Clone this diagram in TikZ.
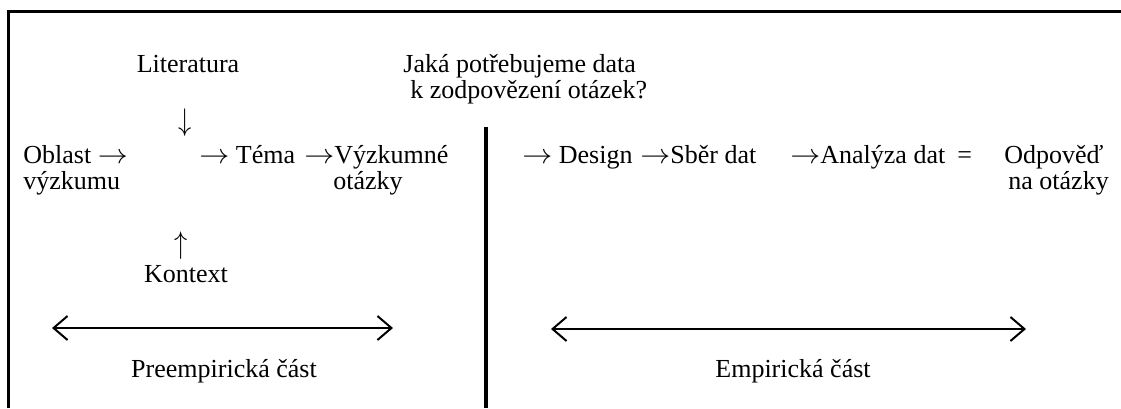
\documentclass[tikz,border=0pt]{standalone}
\usepackage{graphicx}
\usepackage{fontspec}
\setmainfont{Liberation Serif}
\usetikzlibrary{positioning,arrows.meta}
\newcommand{\rarr}{\scalebox{1.25}[1.15]{$\rightarrow$}}
\newcommand{\varr}[1]{\scalebox{1.1}[1.3]{$#1$}}

\begin{document}
\begin{tikzpicture}[x=0.5pt,y=-0.5pt,
    lbl/.style={anchor=base west,inner sep=0pt,font=\fontsize{13}{15}\selectfont},
    clbl/.style={anchor=base,inner sep=0pt,font=\fontsize{13}{15}\selectfont},
    frame/.style={line width=1.5pt},
    phase/.style={{Straight Barb[length=7pt,width=12pt]}-{Straight Barb[length=7pt,width=12pt]},line width=1pt}]
    \useasboundingbox (0,0) rectangle (1121,408);
    % frame and divider
    \draw[frame] (8,408) -- (8,11) -- (1121,11);
    \draw[line width=1.8pt] (486,127) -- (486,408);
    % preempirical part
    \node[clbl] (lit) at (188,72) {Literatura};
    \node[clbl] (down) at (185,130) {\varr{\downarrow}};
    \node[lbl] (obl) at (23,163) {Oblast \rarr};
    \node[lbl] (obl2) at (23,189) {výzkumu};
    \node[lbl] (tema) at (199,163) {\rarr{} Téma};
    \node[lbl] (otaz) at (304,163) {\rarr Výzkumné};
    \node[lbl] (otaz2) at (333,189) {otázky};
    \node[clbl] (up) at (181,253) {\varr{\uparrow}};
    \node[clbl] (kont) at (186,282) {Kontext};
    % empirical part
    \node[lbl] (q1) at (403,72) {Jaká potřebujeme data};
    \node[lbl] (q2) at (410,98) {k zodpovězení otázek?};
    \node[lbl] (des) at (522,163) {\rarr{} Design};
    \node[lbl] (sber) at (640,163) {\rarr Sběr dat};
    \node[lbl] (anal) at (790,163) {\rarr Analýza dat};
    \node[lbl] (eq) at (957,163) {=};
    \node[lbl] (odp) at (1004,163) {Odpověď};
    \node[lbl] (odp2) at (1008,189) {na otázky};
    % phases
    \coordinate (pl) at (52,328);
    \coordinate (pr) at (393,328);
    \coordinate (el) at (551,329);
    \coordinate (er) at (1026,329);
    \draw[phase] (pl) -- (pr);
    \draw[phase] (el) -- (er);
    \node[clbl] (pre) at (224,377) {Preempirická část};
    \node[clbl] (emp) at (793,377) {Empirická část};
\end{tikzpicture}
\end{document}
